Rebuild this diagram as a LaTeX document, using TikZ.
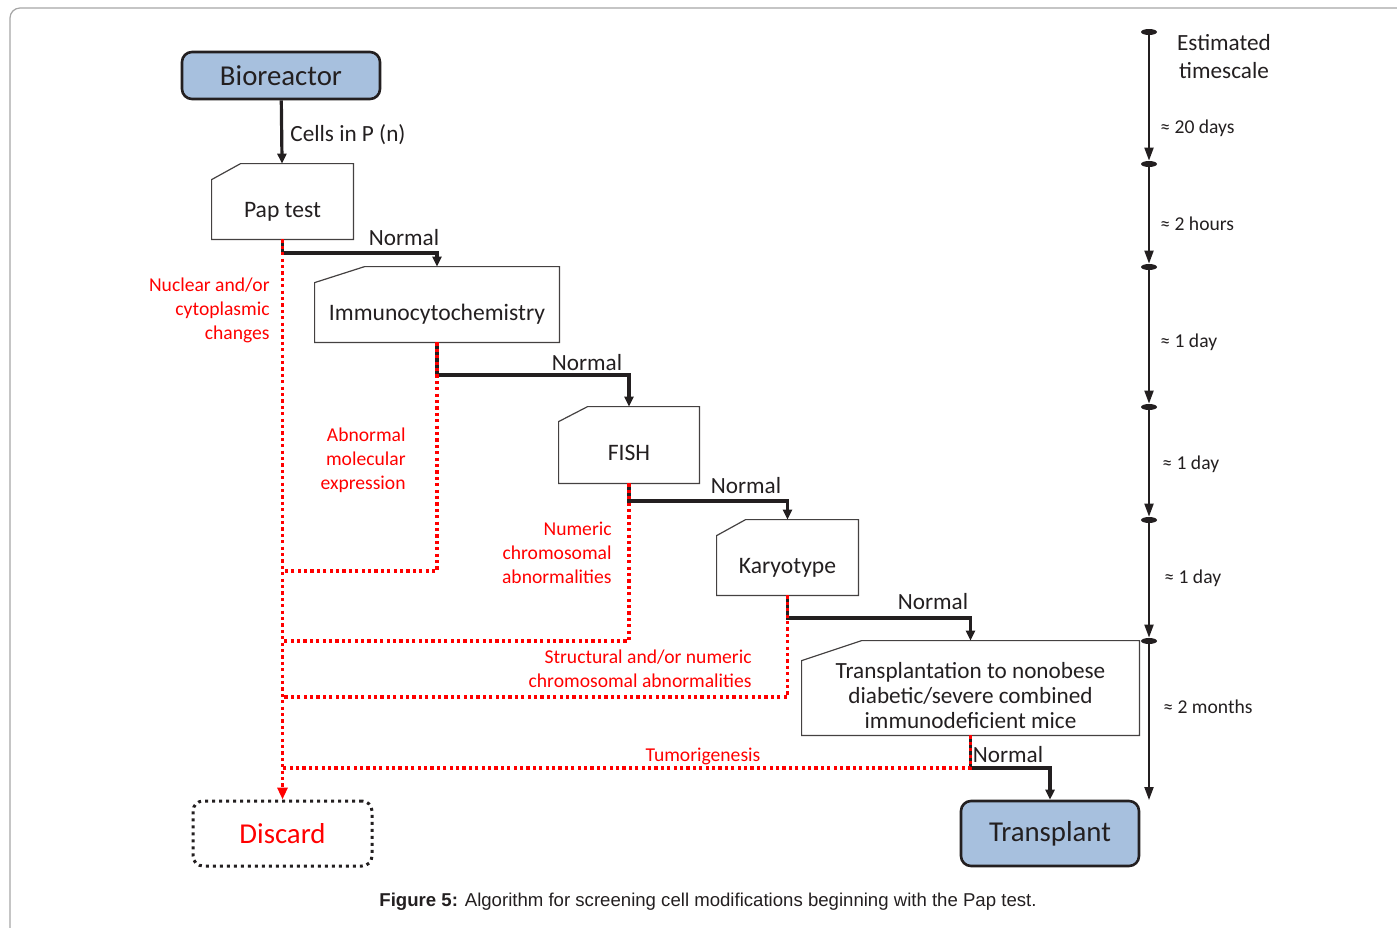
\documentclass[tikz,border=0pt]{standalone}
\usepackage{fontspec}
\setmainfont{Carlito}
\newfontfamily\capfont{Liberation Sans}
\usetikzlibrary{arrows.meta,shapes.geometric}
\definecolor{ink}{HTML}{231F20}
\definecolor{reactorblue}{HTML}{A7C0DE}
\definecolor{framegray}{HTML}{A6A6A6}
\definecolor{rejectred}{HTML}{FF0000}
\tikzset{
  endbox/.style={rounded corners=5pt, draw=ink, line width=1.3pt, minimum height=23.5pt, font=\fontsize{14.4}{16}\selectfont, text=ink},
  card/.style={minimum height=37.5pt, inner sep=0pt, font=\fontsize{11.8}{14}\selectfont, text=ink, text height=18pt, text depth=2.5pt},
  cardline/.style={draw=ink!85, line width=0.6pt},
  flow/.style={draw=ink, line width=1.6pt, -{Triangle[width=4.5pt,length=5pt]}},
  reject/.style={draw=rejectred, line width=1.6pt, dash pattern=on 1.6pt off 1.6pt},
  rejecttext/.style={text=rejectred, align=right, inner sep=0pt, font=\fontsize{9.8}{12}\selectfont},
  normaltext/.style={text=ink, inner sep=0pt, font=\fontsize{11.6}{14}\selectfont},
  tick/.style={shape=ellipse, fill=ink, inner sep=0pt, minimum width=8pt, minimum height=3pt},
  timeflow/.style={draw=ink, line width=1pt, -{Triangle[width=4.5pt,length=6.5pt]}},
  timetext/.style={text=ink, anchor=west, inner sep=0pt, font=\fontsize{9.8}{12}\selectfont}
}
\begin{document}
\begin{tikzpicture}[x=0.5pt,y=-0.5pt]
\useasboundingbox (0,0) rectangle (1397,927);
\draw[framegray, line width=0.6pt, rounded corners=5pt] (1430,8) -- (10,8) -- (10,960);

% boxes
\node[endbox, fill=reactorblue, minimum width=99pt] (bioreactor) at (281,75.5) {Bioreactor};
\node[card, minimum width=70.5pt] (pap) at (282.5,201.5) {Pap test};
\node[card, minimum width=122pt] (immuno) at (437,304.5) {Immunocytochemistry};
\node[card, minimum width=70pt, minimum height=38pt] (fish) at (629,445) {FISH};
\node[card, minimum width=70.5pt] (karyo) at (787.5,557.5) {Karyotype};
\node[card, minimum width=168.5pt, minimum height=47pt,
      label={[normaltext, align=center, font=\fontsize{11.6}{12.5}\selectfont, yshift=-4pt]center:Transplantation to nonobese\\diabetic/severe combined\\immunodeficient mice}] (mice) at (970.5,688) {};
\node[endbox, fill=reactorblue, minimum width=89pt, minimum height=32.5pt] (transplant) at (1050,833.5) {Transplant};
\node[endbox, text=rejectred, line width=1.5pt, dash pattern=on 1.5pt off 2pt, minimum width=89.5pt, minimum height=32.5pt] (discard) at (282.5,833.5) {Discard};

% card outlines with the cut corner
\foreach \n/\cx/\cy in {pap/14.5/8, immuno/25/8, fish/14.5/7.5, karyo/14.5/8, mice/30/10}
  \draw[cardline] ([yshift=-\cy pt]\n.north west) -- ([xshift=\cx pt]\n.north west) -- (\n.north east) -- (\n.south east) -- (\n.south west) -- cycle;

% normal path
\coordinate (jpap) at (282.5,253);
\coordinate (jimmuno) at (437,375);
\coordinate (jfish) at (629,501);
\coordinate (jkaryo) at (787.5,618);
\coordinate (jmice) at (970.5,768);
\draw[flow] (bioreactor) -- (pap);
\draw[flow] (pap.south) -- (jpap) -| (immuno.north);
\draw[flow] (immuno.south) -- (jimmuno) -| (fish.north);
\draw[flow] (fish.south) -- (jfish) -| (karyo.north);
\draw[flow] (karyo.south) -- (jkaryo) -| (mice.north);
\draw[flow] (mice.south) -- (jmice) -| (transplant.north);

\node[normaltext, anchor=west] (cells) at (290,135) {Cells in P (n)};
\node[normaltext] (normal1) at (404,238) {Normal};
\node[normaltext] (normal2) at (587,363) {Normal};
\node[normaltext] (normal3) at (746,486) {Normal};
\node[normaltext] (normal4) at (933,602) {Normal};
\node[normaltext] (normal5) at (1008,755) {Normal};

% reject path
\coordinate (rimmuno) at (437,571);
\coordinate (rfish) at (629,641);
\coordinate (rkaryo) at (787.5,697);
\coordinate (rmice) at (970.5,768);
\draw[reject] (immuno.south) -- (rimmuno) -- (rimmuno -| pap.south);
\draw[reject] (fish.south) -- (rfish) -- (rfish -| pap.south);
\draw[reject] (karyo.south) -- (rkaryo) -- (rkaryo -| pap.south);
\draw[reject] (mice.south) -- (rmice) -- (rmice -| pap.south);
\draw[reject, -{Triangle[width=5pt,length=6pt]}] (pap.south) -- (discard.north);

\node[rejecttext, anchor=east] (nuclear) at (270,310) {Nuclear and/or\\cytoplasmic\\changes};
\node[rejecttext, anchor=east] (abnormal) at (406,460) {Abnormal\\molecular\\expression};
\node[rejecttext, anchor=east] (numeric) at (612,553) {Numeric\\chromosomal\\abnormalities};
\node[rejecttext, anchor=east] (structural) at (752,669) {Structural and/or numeric\\chromosomal abnormalities};
\node[rejecttext] (tumor) at (703,756) {Tumorigenesis};

% timescale
\node[tick] (t0) at (1149,32) {};
\node[tick] (t1) at (1149,164) {};
\node[tick] (t2) at (1149,267) {};
\node[tick] (t3) at (1149,407) {};
\node[tick] (t4) at (1149,520) {};
\node[tick] (t5) at (1149,641) {};
\coordinate (tend) at (1149,800);
\foreach \a/\b in {t0/t1, t1/t2, t2/t3, t3/t4, t4/t5, t5/tend}
  \draw[timeflow] (\a) -- (\b);

\node[normaltext, align=center] (estimated) at (1224,57) {Estimated\\timescale};
\node[timetext] (d1) at (1160,128) {≈ 20 days};
\node[timetext] (d2) at (1160,224) {≈ 2 hours};
\node[timetext] (d3) at (1160,342) {≈ 1 day};
\node[timetext] (d4) at (1162,464) {≈ 1 day};
\node[timetext] (d5) at (1164,578) {≈ 1 day};
\node[timetext] (d6) at (1163,707) {≈ 2 months};

\node[text=ink, inner sep=0pt, font=\capfont\fontsize{9.3}{11}\selectfont] (caption) at (708,902) {\textbf{Figure 5:} Algorithm for screening cell modifications beginning with the Pap test.};
\end{tikzpicture}
\end{document}
